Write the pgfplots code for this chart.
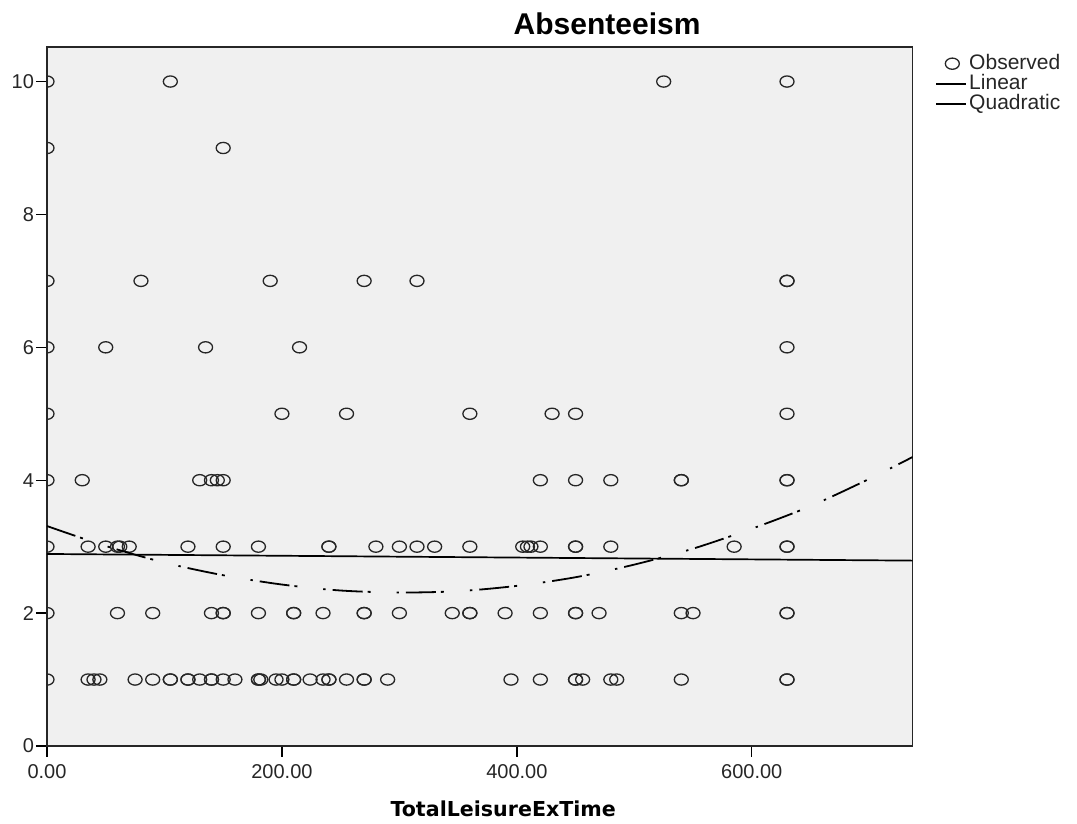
\documentclass[border=0pt]{standalone}
\usepackage{fontspec}
\setmainfont{Liberation Sans}
\newfontfamily\dejavu{DejaVu Sans}
\usepackage{pgfplots}
\pgfplotsset{compat=1.18}
\definecolor{plotbg}{HTML}{F0F0F0}
\pgfplotsset{
  markleg/.style={legend image code/.code={\draw[##1] plot coordinates {(8pt,0pt)};}},
  lineleg/.style={legend image code/.code={\draw[##1] (0pt,0pt) -- (15pt,0pt);}},
}

\begin{document}
\begin{tikzpicture}
\begin{axis}[
  scale only axis,
  width=432.85pt, height=349.5pt,
  xmin=0, xmax=737, ymin=0, ymax=10.52,
  clip marker paths=true,
  axis background/.style={fill=plotbg},
  axis line style={line width=0.7pt, black!85},
  xtick={0,200,400,600}, xticklabels={0.00,200.00,400.00,600.00},
  ytick={0,2,4,6,8,10}, yticklabels={0,2,4,6,8,10},
  tick align=outside, tick pos=left,
  major tick length=5.5pt,
  tick style={line width=0.7pt, black},
  tick label style={font=\fontsize{10}{12}\selectfont, text=black!85},
  yticklabel style={xshift=2.5pt},
  title={Absenteeism},
  title style={font=\bfseries\fontsize{15}{18}\selectfont, at={(0.647,1)}, anchor=base},
  xlabel={TotalLeisureExTime},
  every axis x label/.style={at={(0.527,0)}, anchor=base, yshift=-35.5pt, font=\dejavu\bfseries\fontsize{10.3}{12}\selectfont},
  legend style={at={(1.0258,0.991)}, anchor=north west, draw=none, fill=none,
    inner sep=0pt, row sep=0pt, font=\fontsize{10.5}{12}\selectfont,
    nodes={inner sep=1pt, text height=7pt, text depth=1pt, text=black!85}},
  legend cell align=left,
]
% observed
\addplot[only marks, mark=o, mark size=3.5pt, black!85,
  mark options={yscale=0.8, line width=0.65pt}, markleg]
coordinates {
(0,1) (35,1) (40,1) (45,1) (75,1) (90,1) (105,1) (105,1) (120,1) (120,1) (130,1) (140,1) (140,1)
(150,1) (160,1) (180,1) (180,1) (182,1) (195,1) (200,1) (210,1) (210,1) (224,1) (235,1) (240,1) (240,1)
(255,1) (270,1) (270,1) (290,1) (395,1) (420,1) (450,1) (450,1) (456,1) (480,1) (485,1) (540,1) (630,1) (630,1)
(0,2) (60,2) (90,2) (140,2) (150,2) (150,2) (180,2) (210,2) (210,2) (235,2) (270,2) (270,2) (300,2)
(345,2) (360,2) (360,2) (390,2) (420,2) (450,2) (450,2) (470,2) (540,2) (550,2) (630,2) (630,2)
(0,3) (35,3) (50,3) (60,3) (62,3) (70,3) (120,3) (150,3) (180,3) (240,3) (240,3) (280,3) (300,3)
(315,3) (330,3) (360,3) (405,3) (409,3) (412,3) (420,3) (450,3) (450,3) (480,3) (585,3) (630,3) (630,3)
(0,4) (30,4) (130,4) (140,4) (145,4) (150,4) (420,4) (450,4) (480,4) (540,4) (540,4) (630,4) (630,4)
(0,5) (200,5) (255,5) (360,5) (430,5) (450,5) (630,5)
(0,6) (50,6) (135,6) (215,6) (630,6)
(0,7) (80,7) (190,7) (270,7) (315,7) (630,7) (630,7)
(0,9) (150,9)
(0,10) (105,10) (525,10) (630,10)
};
\addlegendentry{Observed}
% linear fit
\addplot[black, line width=0.85pt, lineleg]
coordinates {(0,2.89) (737,2.79)};
\addlegendentry{Linear}
% quadratic fit
\addplot[black, line width=0.9pt, smooth,
  dash pattern=on 15pt off 2.5pt on 1.5pt off 13pt on 1.2pt off 3.5pt, lineleg]
coordinates {
(0,3.31) (50,3.01) (100,2.76) (150,2.57) (200,2.43) (250,2.34) (300,2.31)
(350,2.33) (400,2.41) (450,2.54) (500,2.73) (550,2.97) (600,3.27)
(650,3.61) (700,4.02) (737,4.35)
};
\addlegendentry{Quadratic}
\end{axis}
\pgfresetboundingbox
\path[use as bounding box] ([shift={(-23.5pt,-39pt)}]current axis.south west)
  rectangle ([shift={(82.15pt,23.5pt)}]current axis.north east);
\end{tikzpicture}
\end{document}
